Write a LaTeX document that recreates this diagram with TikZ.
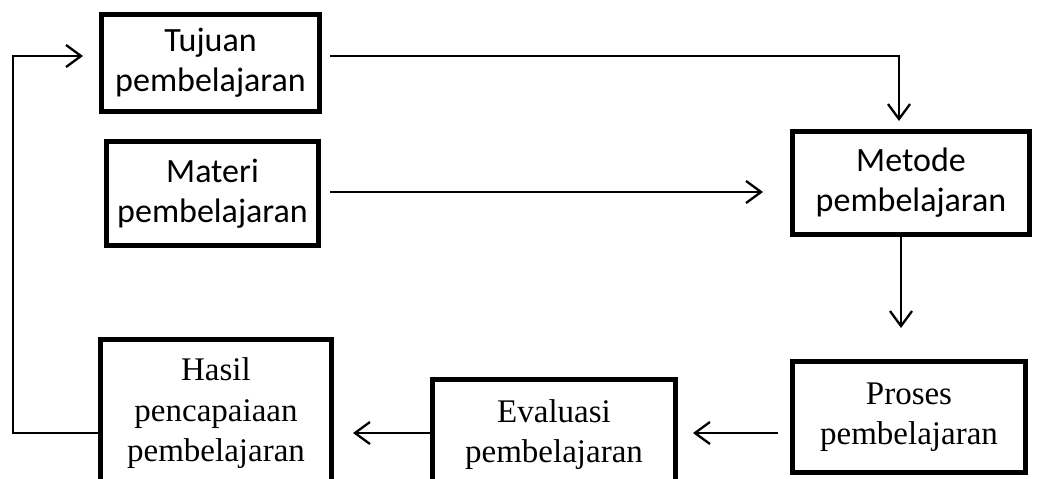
\documentclass[tikz,border=0pt]{standalone}
\usepackage{fontspec}
\setmainfont{Liberation Serif}
\newfontfamily\carlitofont{Carlito}
\usetikzlibrary{arrows.meta,calc}
\begin{document}
\begin{tikzpicture}[x=1pt,y=-1pt,
  box/.style={draw=black,line width=5pt,inner sep=0pt,align=center},
  sansbox/.style={box,font=\carlitofont\fontsize{34}{40}\selectfont},
  serifbox/.style={box,font=\fontsize{33}{40.5}\selectfont},
  conn/.style={line width=2.3pt,-{Straight Barb[length=15pt,width=22pt,line width=2.3pt]}}]
\useasboundingbox (0,0) rectangle (1039,479);
\node[sansbox,minimum width=218pt,minimum height=97pt] (tujuan) at (210.5,62.5) {Tujuan\\pembelajaran};
\node[sansbox,minimum width=212pt,minimum height=104pt] (materi) at (212.5,193.8) {Materi\\pembelajaran};
\node[sansbox,minimum width=237pt,minimum height=103pt] (metode) at (911,183) {Metode\\pembelajaran};
\node[serifbox,minimum width=233pt,minimum height=111pt] (proses) at (909,417) {Proses\\pembelajaran};
\node[serifbox,minimum width=243pt,minimum height=110pt] (evaluasi) at (554,434.5) {Evaluasi\\pembelajaran};
\node[serifbox,minimum width=231pt,minimum height=148pt] (hasil) at (216,413.5) {Hasil\\pencapaiaan\\pembelajaran};
\coordinate (loopcorner) at (13,433);
\coordinate (materiout) at ($(materi.east)+(9,-1.8)$);
\coordinate (materiin) at (763,192);
\draw[conn] ([xshift=8pt,yshift=6.5pt]tujuan.east) -| ([xshift=-12pt,yshift=8pt]metode.north);
\draw[conn] (materiout) -- (materiin);
\draw[conn] ([xshift=-10pt]metode.south) -- ([xshift=-8pt,yshift=31pt]proses.north);
\draw[conn] ([xshift=-12pt,yshift=-16pt]proses.west) -- ([xshift=15pt,yshift=1.5pt]evaluasi.east);
\draw[conn] ([yshift=1.5pt]evaluasi.west) -- ([xshift=19pt,yshift=-19.5pt]hasil.east);
\draw[conn] ([yshift=-19.5pt]hasil.west) -- (loopcorner) |- ([xshift=-16pt,yshift=6.5pt]tujuan.west);
\end{tikzpicture}
\end{document}
